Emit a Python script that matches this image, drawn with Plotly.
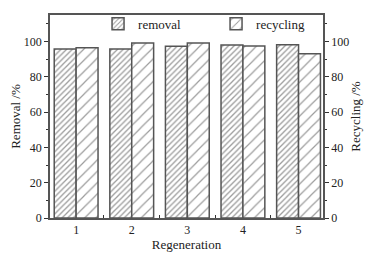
import plotly.graph_objects as go

categories = [1, 2, 3, 4, 5]
removal = [95.8, 95.8, 97.3, 98.0, 98.2]
recycling = [96.4, 99.1, 99.1, 97.5, 93.1]
y_ticks = [0, 20, 40, 60, 80, 100]

FONT = "Liberation Serif"
BW = 0.394
edge = "#555555"

fig = go.Figure()
fig.add_trace(go.Bar(
    x=categories, y=removal, name="removal", width=BW, offset=-BW,
    marker=dict(color="white", line=dict(color=edge, width=1.5),
                pattern=dict(shape="/", size=4, solidity=0.33, fgcolor="#3a3a3a", bgcolor="white")),
    yaxis="y"))
fig.add_trace(go.Bar(
    x=categories, y=recycling, name="recycling", width=BW, offset=0,
    marker=dict(color="white", line=dict(color=edge, width=1.5),
                pattern=dict(shape="/", size=8, solidity=0.15, fgcolor="#3a3a3a", bgcolor="white")),
    yaxis="y2"))

axis_common = dict(range=[0, 115], tickvals=y_ticks, ticks="outside", ticklen=4,
                   tickcolor="#333", linecolor="#555", linewidth=1.5, showgrid=False,
                   zeroline=False, tickfont=dict(family=FONT, size=12, color="#222"),
                   minor=dict(dtick=10, tick0=0, ticks="outside", ticklen=2, tickcolor="#333"))

fig.update_layout(
    width=368, height=247,
    margin=dict(l=42, r=53, t=1, b=37),
    paper_bgcolor="white", plot_bgcolor="white",
    font=dict(family=FONT, size=13, color="#222"),
    showlegend=True,
    legend=dict(orientation="h", x=0.176, y=1.03, xanchor="left", yanchor="top",
                font=dict(family=FONT, size=13, color="#222"), bgcolor="rgba(0,0,0,0)",
                entrywidth=73, entrywidthmode="pixels"),
    xaxis=dict(range=[0.53, 5.44], tickvals=categories, ticks="", showgrid=False,
               linecolor="#555", linewidth=1.5, mirror=True, zeroline=False,
               tickfont=dict(family=FONT, size=12, color="#222"),
               minor=dict(tick0=0.5, dtick=1, ticks="inside", ticklen=3, tickcolor="#333"),
               title=dict(text="Regeneration", font=dict(family=FONT, size=13), standoff=4)),
    yaxis=dict(**axis_common, side="left",
               title=dict(text="Removal /%", font=dict(family=FONT, size=13), standoff=4)),
    yaxis2=dict(**axis_common, side="right", overlaying="y",
                title=dict(text="Recycling /%", font=dict(family=FONT, size=13), standoff=3)),
)

fig.write_html("out.html")
